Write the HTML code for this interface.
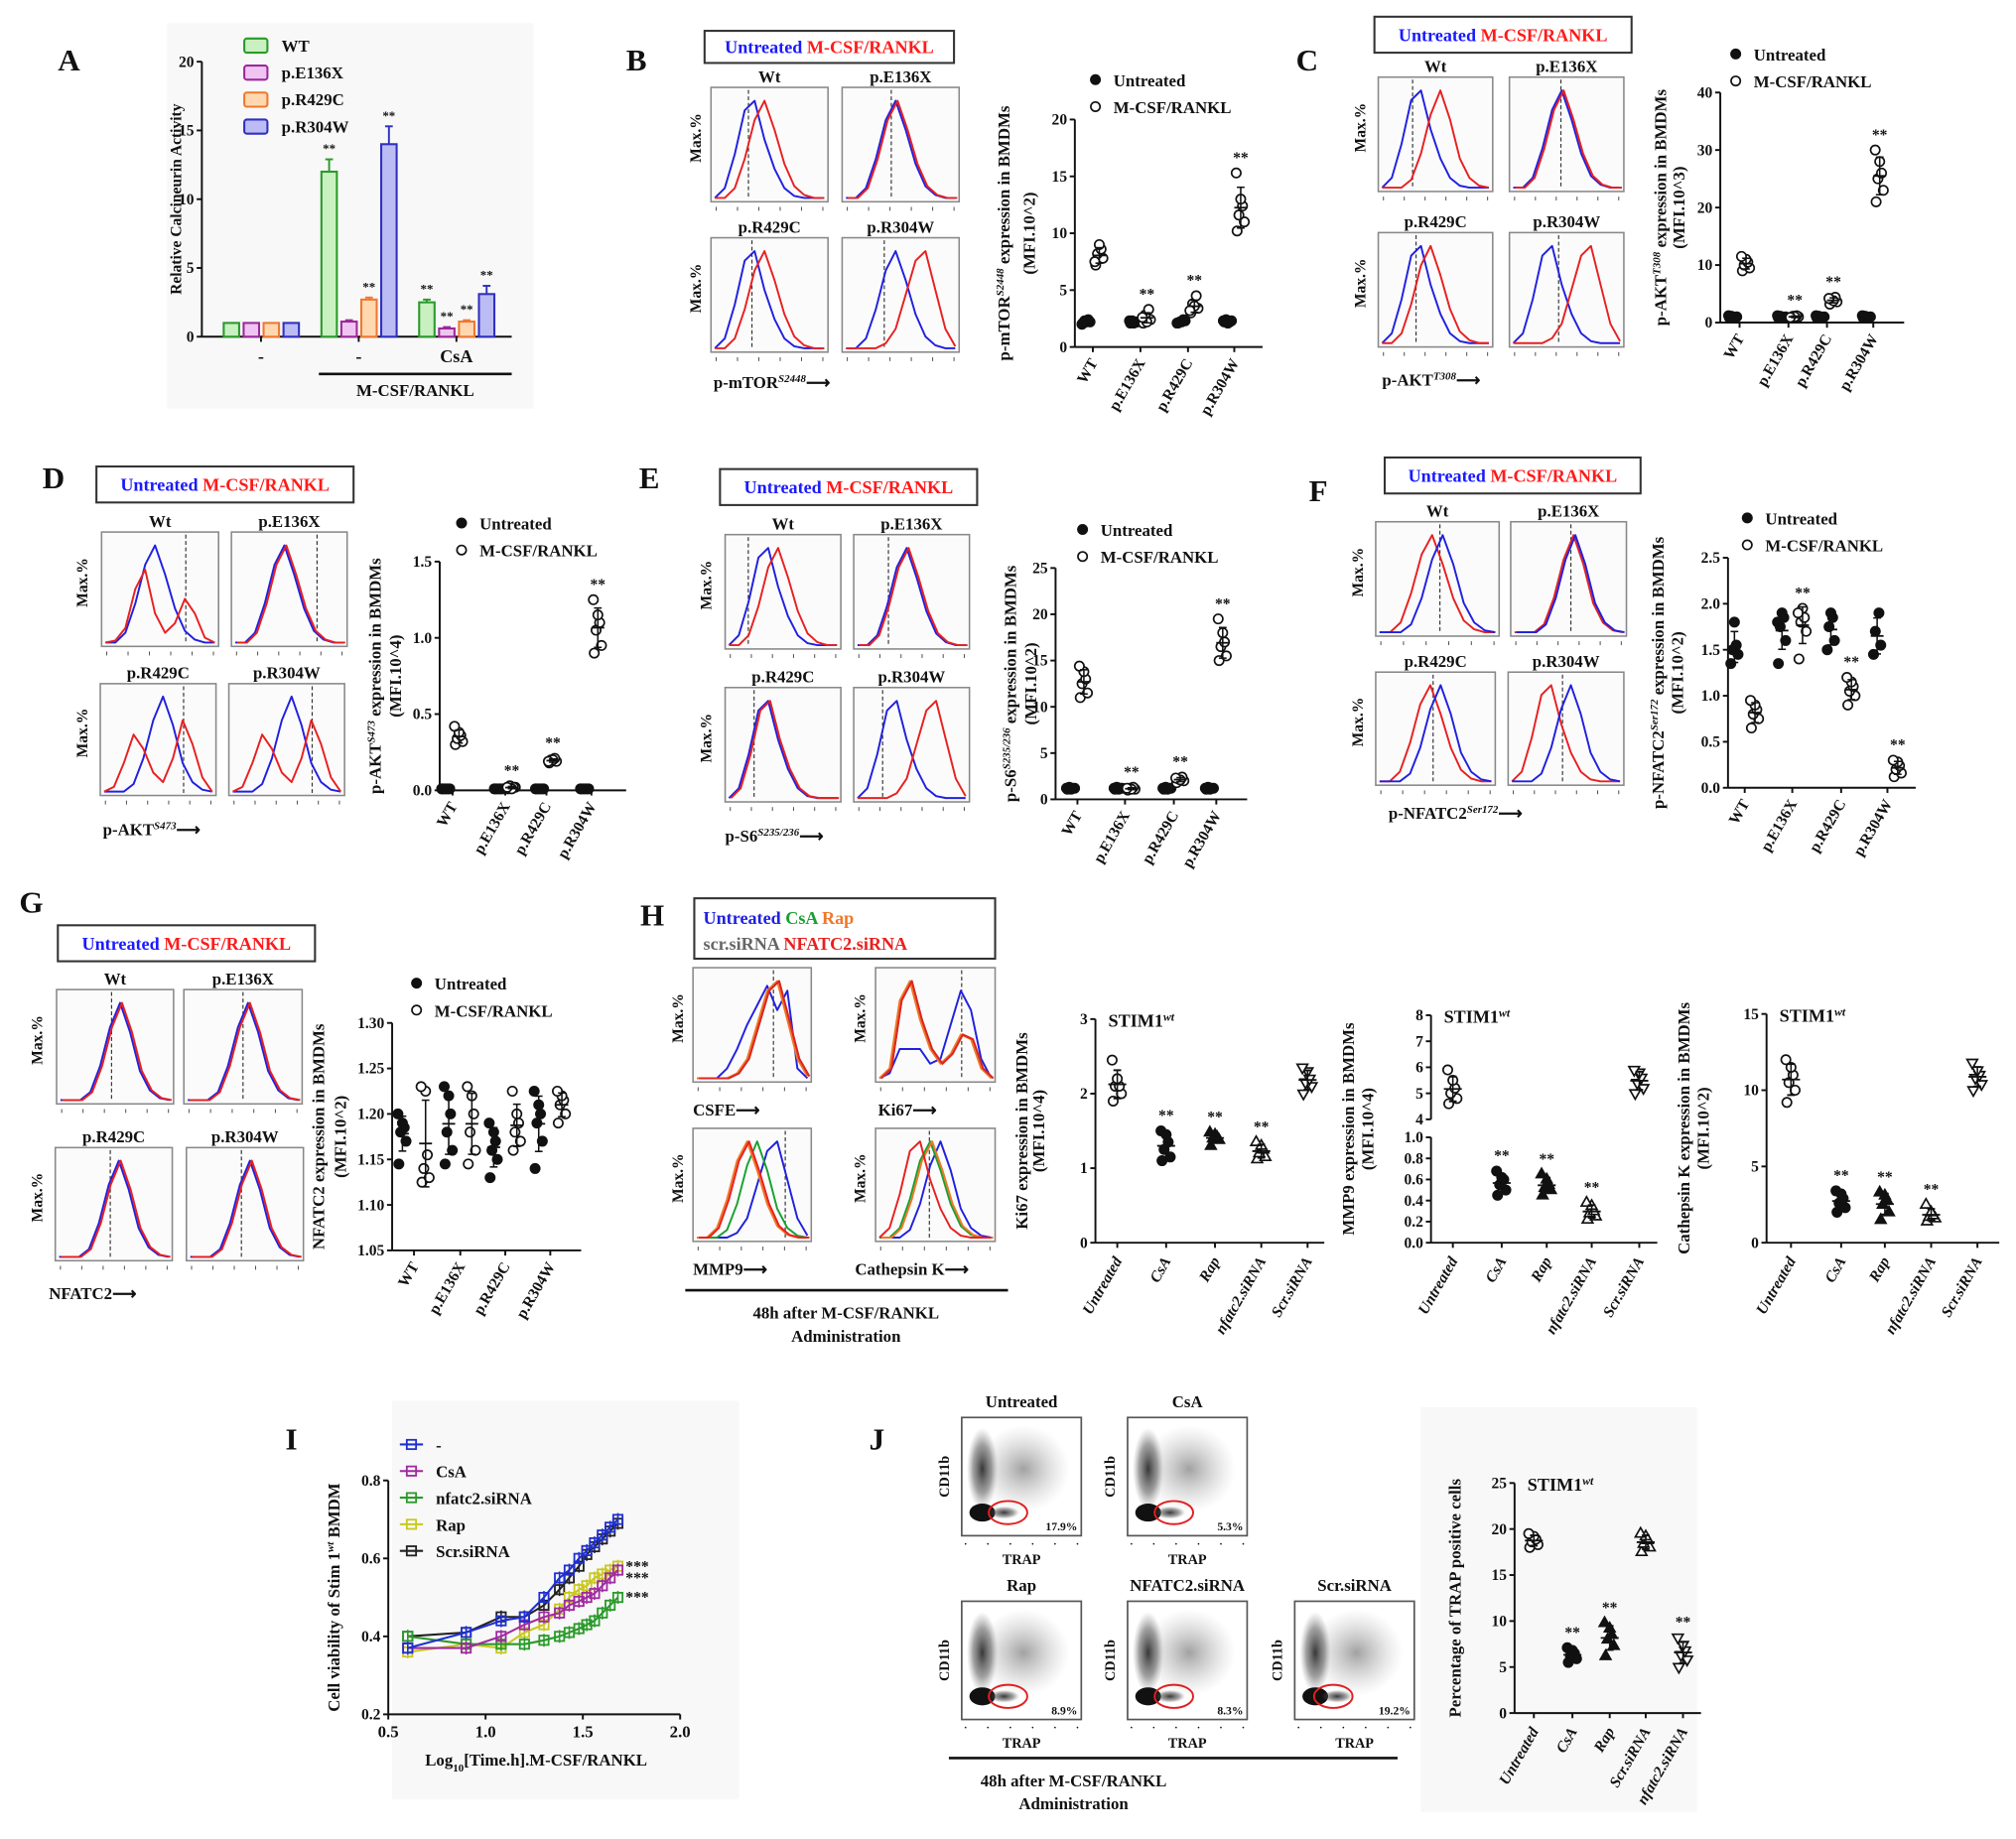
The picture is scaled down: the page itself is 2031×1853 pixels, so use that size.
<!DOCTYPE html>
<html><head><meta charset="utf-8">
<style>
html,body{margin:0;padding:0;background:#fff}
svg{display:block}
text{font-family:"Liberation Serif",serif;font-weight:bold}
</style></head>
<body>
<svg id="fig" xmlns="http://www.w3.org/2000/svg" width="2031" height="1853" viewBox="0 0 1568 1431" preserveAspectRatio="none">
<defs>
<radialGradient id="blob"><stop offset="0" stop-color="#222" stop-opacity="0.9"/><stop offset="0.6" stop-color="#444" stop-opacity="0.5"/><stop offset="1" stop-color="#777" stop-opacity="0"/></radialGradient>
<radialGradient id="blob2"><stop offset="0" stop-color="#555" stop-opacity="0.55"/><stop offset="1" stop-color="#999" stop-opacity="0"/></radialGradient>
</defs>
</svg>
<script>
// ===== DATA =====
const barCats = ['-', '-', 'CsA'];
const barSeries = ['WT','p.E136X','p.R429C','p.R304W'];
const barWT = [1, 12, 2.5];
const barE136X = [1, 1.1, 0.6];
const barR429C = [1, 2.7, 1.1];
const barR304W = [1, 14, 3.1];
const barErrWT = [0, 0.9, 0.2];
const barErrE136X = [0, 0.1, 0.1];
const barErrR429C = [0, 0.15, 0.1];
const barErrR304W = [0, 1.3, 0.6];
const aTicks = [0,5,10,15,20];

const mutCats = ['WT','p.E136X','p.R429C','p.R304W'];
const bUn = [[2.1,2.2,2.3,2.4,2.2,2.0],[2.1,2.2,2.3,2.2,2.1,2.3],[2.1,2.3,2.2,2.4,2.2,2.1],[2.2,2.3,2.4,2.2,2.1,2.3]];
const bTr = [[7.2,7.8,8.2,8.6,9.0,7.5],[2.1,2.4,2.8,3.3,2.2,2.6],[3.0,3.4,3.8,4.5,3.6,3.2],[10.2,11.0,11.6,12.4,13.0,15.3]];
const bTicks = [0,5,10,15,20];
const cUn = [[0.8,1,1.1,0.9,1,1.2],[0.8,1,1.1,0.9,1,1.2],[0.8,1,1.1,0.9,1,1.2],[0.8,1,1.1,0.9,1,1.2]];
const cTr = [[9,9.5,10,10.5,11,11.5],[0.8,1,1.1,1.2,1,0.9],[3.2,3.6,4,4.4,3.8,4.2],[21,23,25,26,28,30]];
const cTicks = [0,10,20,30,40];
const dUn = [[0.01,0.01,0.01,0.01,0.01,0.01],[0.01,0.01,0.01,0.01,0.01,0.01],[0.01,0.01,0.01,0.01,0.01,0.01],[0.01,0.01,0.01,0.01,0.01,0.01]];
const dTr = [[0.3,0.32,0.34,0.36,0.38,0.42],[0.01,0.02,0.03,0.02,0.01,0.02],[0.18,0.19,0.2,0.21,0.2,0.19],[0.9,0.95,1.05,1.1,1.15,1.25]];
const dTicks = [0,0.5,1.0,1.5];
const eUn = [[1.1,1.2,1.3,1.2,1.1,1.2],[1.1,1.2,1.3,1.2,1.1,1.2],[1.1,1.2,1.3,1.2,1.1,1.2],[1.1,1.2,1.3,1.2,1.1,1.2]];
const eTr = [[11,11.5,12.5,13,13.8,14.4],[1,1.1,1.2,1.3,1.1,1.2],[1.8,2,2.2,2.4,2.1,2.3],[15,15.5,16.5,17,18,19.5]];
const eTicks = [0,5,10,15,20,25];
const fUn = [[1.35,1.45,1.5,1.55,1.8],[1.35,1.6,1.75,1.85,1.9,1.8],[1.5,1.6,1.75,1.85,1.9],[1.45,1.55,1.7,1.9]];
const fTr = [[0.65,0.75,0.8,0.85,0.9,0.95],[1.4,1.7,1.8,1.85,1.95,1.9],[0.9,1.0,1.05,1.1,1.15,1.2],[0.12,0.16,0.2,0.24,0.28,0.3]];
const fTicks = [0,0.5,1.0,1.5,2.0,2.5];
const gUn = [[1.145,1.17,1.18,1.185,1.19,1.2],[1.145,1.16,1.18,1.2,1.22,1.23],[1.13,1.15,1.16,1.17,1.18,1.19],[1.14,1.17,1.19,1.2,1.21,1.225]];
const gTr = [[1.125,1.13,1.14,1.155,1.225,1.23],[1.145,1.16,1.18,1.2,1.22,1.23],[1.16,1.17,1.18,1.19,1.2,1.225],[1.19,1.2,1.21,1.215,1.22,1.225]];
const gTicks = [1.05,1.10,1.15,1.20,1.25,1.30];

const trtCats = ['Untreated','CsA','Rap','nfatc2.siRNA','Scr.siRNA'];
const ki67 = [[1.9,2.0,2.1,2.1,2.2,2.45],[1.1,1.15,1.25,1.35,1.45,1.5],[1.3,1.38,1.4,1.42,1.45,1.48],[1.12,1.15,1.2,1.25,1.3,1.35],[2.0,2.1,2.15,2.2,2.3,2.35]];
const ki67Ticks = [0,1,2,3];
const mmp9 = [[4.6,4.8,5.0,5.2,5.5,5.9],[0.45,0.5,0.55,0.6,0.62,0.68],[0.45,0.5,0.52,0.55,0.6,0.65],[0.22,0.25,0.28,0.3,0.35,0.38],[5.0,5.2,5.4,5.6,5.8,5.9]];
const mmp9TicksHi = [4,5,6,7,8];
const mmp9TicksLo = [0,0.2,0.4,0.6,0.8,1.0];
const cathk = [[9.2,10,10.5,11,11.5,12],[2,2.3,2.6,2.9,3.2,3.4],[1.5,2,2.5,2.8,3.1,3.3],[1.4,1.6,1.7,1.8,2,2.5],[10,10.4,10.8,11,11.3,11.8]];
const cathkTicks = [0,5,10,15];

const jCats = ['Untreated','CsA','Rap','Scr.siRNA','nfatc2.siRNA'];
const trap = [[18,18.3,18.6,18.9,19.2,19.5],[5.5,5.9,6.2,6.5,6.8,7.1],[6.2,7.3,8,8.5,9.2,9.8],[17.5,18,18.4,18.8,19.2,19.5],[5,5.8,6.3,6.8,7.4,8.2]];
const trapTicks = [0,5,10,15,20,25];
const gatePct = ['17.9%','5.3%','8.9%','8.3%','19.2%'];

const iNames = ['-','CsA','nfatc2.siRNA','Rap','Scr.siRNA'];
const iX = [0.6,0.9,1.08,1.2,1.3,1.38,1.43,1.48,1.52,1.56,1.6,1.64,1.68];
const iScr = [0.40,0.41,0.45,0.45,0.48,0.52,0.55,0.58,0.61,0.63,0.65,0.67,0.69];
const iRap = [0.36,0.38,0.37,0.41,0.43,0.47,0.50,0.52,0.53,0.55,0.56,0.57,0.58];
const iNfatc2 = [0.40,0.38,0.38,0.38,0.39,0.40,0.41,0.42,0.43,0.44,0.46,0.48,0.50];
const iCsA = [0.37,0.37,0.40,0.43,0.45,0.46,0.48,0.49,0.50,0.51,0.53,0.55,0.57];
const iCtrl = [0.37,0.41,0.44,0.45,0.50,0.55,0.57,0.60,0.62,0.64,0.66,0.68,0.70];
const iXTicks = [0.5,1.0,1.5,2.0];
const iYTicks = [0.2,0.4,0.6,0.8];

// histogram profiles (relative counts across the log axis)
const pkL = [0,0.1,0.45,0.9,1,0.6,0.3,0.1,0.02,0,0,0];
const pkM = [0,0,0.1,0.4,0.8,1,0.7,0.35,0.12,0.03,0,0];
const pkMR = [0,0,0,0.08,0.35,0.75,1,0.7,0.3,0.1,0.02,0];
const pkR = [0,0,0,0,0.05,0.2,0.55,0.9,1,0.6,0.2,0.02];
const dbl = [0,0.02,0.15,0.55,0.75,0.3,0.1,0.2,0.45,0.3,0.05,0];
const dbl2 = [0,0.05,0.3,0.6,0.45,0.2,0.1,0.35,0.75,0.5,0.15,0];
const multi = [0,0,0,0.1,0.3,0.55,0.75,0.95,0.7,0.9,0.1,0];
const bimB = [0,0.05,0.3,0.3,0.3,0.15,0.2,0.55,0.9,0.7,0.2,0];
const bimR = [0,0.1,0.8,1,0.6,0.3,0.15,0.25,0.45,0.4,0.1,0];

// ===== HELPERS =====
const NS='http://www.w3.org/2000/svg';
const svg=document.getElementById('fig');
function mk(tag, attrs, parent, name){
  const e=document.createElementNS(NS,tag);
  for(const k in attrs) e.setAttribute(k,attrs[k]);
  
  
  (parent||svg).appendChild(e); return e;
}
function T(x,y,s,size,name,o){
  o=o||{};
  const e=mk('text',{x:x,y:y,'font-size':size,'text-anchor':o.anchor||'start',fill:o.fill||'#111'},o.parent,name);
  if(o.rot!==undefined) e.setAttribute('transform','rotate('+o.rot+' '+x+' '+y+')');
  if(o.italic) e.setAttribute('font-style','italic');
  if(o.weight) e.setAttribute('font-weight',o.weight);
  e.textContent=s; return e;
}
function TP(x,y,parts,size,name,o){
  o=o||{};
  const e=mk('text',{x:x,y:y,'font-size':size,'text-anchor':o.anchor||'start',fill:'#111'},o.parent,name);
  if(o.rot!==undefined) e.setAttribute('transform','rotate('+o.rot+' '+x+' '+y+')');
  parts.forEach(p=>{
    const t=document.createElementNS(NS,'tspan');
    t.textContent=p[0];
    if(p[1]==='sup'){t.setAttribute('font-size',size*0.65);t.setAttribute('baseline-shift','super');t.setAttribute('font-style','italic');}
    if(p[1]==='sub'){t.setAttribute('font-size',size*0.65);t.setAttribute('baseline-shift','sub');}
    if(p[2]) t.setAttribute('fill',p[2]);
    e.appendChild(t);
  });
  return e;
}
function L(x1,y1,x2,y2,name,st,w,dash){
  const e=mk('line',{x1:x1,y1:y1,x2:x2,y2:y2,stroke:st||'#111','stroke-width':w||1.5},null,name);
  if(dash) e.setAttribute('stroke-dasharray',dash);
  return e;
}
function lin(d0,d1,r0,r1){return v=>r0+(v-d0)*(r1-r0)/(d1-d0);}
function mean(a){return a.reduce((s,v)=>s+v,0)/a.length;}
function sd(a){const m=mean(a);return Math.sqrt(a.reduce((s,v)=>s+(v-m)*(v-m),0)/(a.length-1));}
function marker(x,y,type,name,col){
  col=col||'#111'; const r=3.6;
  if(type==='fc'||type==='oc'){
    return mk('circle',{cx:x,cy:y,r:r,fill:type==='fc'?col:'#fff',stroke:col,'stroke-width':1.3},null,name);
  }
  if(type==='sq'){
    return mk('rect',{x:x-r,y:y-r,width:2*r,height:2*r,fill:'none',stroke:col,'stroke-width':1.4},null,name);
  }
  let pts;
  if(type==='od') pts=[[x-r-0.5,y-r+1],[x+r+0.5,y-r+1],[x,y+r+1]];
  else pts=[[x-r-0.5,y+r-1],[x+r+0.5,y+r-1],[x,y-r-1]];
  return mk('polygon',{points:pts.map(p=>p.join(',')).join(' '),fill:type==='ft'?col:'#fff',stroke:col,'stroke-width':1.3},null,name);
}
const jit=[-4,4,-2,2,0,-5,5];

function yAxis(ax,yb,yt,map,ticks,fmt,name){
  L(ax,yb,ax,yt,name+'-y-axis');
  ticks.forEach(t=>{
    const y=map(t);
    L(ax-4,y,ax,y,name+'-y-tick');
    T(ax-6,y+4,fmt(t),12,name+'-y-tick-label',{anchor:'end'});
  });
}
function legendBox(x,y,w,h,parts,name){
  mk('rect',{x:x,y:y,width:w,height:h,fill:'#fff',stroke:'#333','stroke-width':1.6},null,name);
  TP(x+w/2,y+h/2+5,parts,14,name+'-text',{anchor:'middle'});
}
function drawCurves(b,curves,name){
  curves.forEach((c,ci)=>{
    const n=c.d.length;
    const same=ci>0 && curves[ci-1].d===c.d;
    const sh=same?1.5:0;
    const pts=c.d.map((v,i)=>[(b.x+3+sh+i*(b.w-6)/(n-1)).toFixed(1),(b.y+b.h-3-v*(b.h*0.85)).toFixed(1)].join(','));
    mk('polyline',{points:pts.join(' '),fill:'none',stroke:c.col,'stroke-width':1.5,'stroke-linejoin':'round'},null,name+'-curve');
  });
}
function histBox(b,title,curves,dash,name){
  T(b.x+b.w/2,b.y-4,title,13,name+'-title',{anchor:'middle'});
  mk('rect',{x:b.x,y:b.y,width:b.w,height:b.h,fill:'#fbfbfb',stroke:'#888','stroke-width':1.2},null,name+'-frame');
  L(b.x+b.w*dash,b.y+2,b.x+b.w*dash,b.y+b.h-2,name+'-median-line','#333',0.9,'3,2');
  for(let i=0;i<6;i++){const tx=b.x+4+i*(b.w-8)/5;L(tx,b.y+b.h+4,tx,b.y+b.h+7,name+'-tick','#555',0.8);}
  drawCurves(b,curves,name);
}
function histPanel(boxes,titles,curvesList,dashes,ylabX,xlab,name){
  boxes.forEach((b,i)=>histBox(b,titles[i],curvesList[i],dashes[i],name+'-hist-'+i));
  T(ylabX,(boxes[0].y+boxes[0].h/2)+14,'Max.%',12,name+'-ylabel-top',{rot:-90});
  T(ylabX,(boxes[2].y+boxes[2].h/2)+14,'Max.%',12,name+'-ylabel-bottom',{rot:-90});
  TP(xlab[0],xlab[1],xlab[2],13,name+'-xlabel');
}
function dotPair(c){
  const map=lin(c.vmin,c.vmax,c.yb,c.yt);
  yAxis(c.ax,c.yb,c.yt,map,c.ticks,c.fmt,c.name);
  L(c.ax,c.yb,c.xe,c.yb,c.name+'-x-axis');
  c.cx.forEach((cx,k)=>{
    L(cx,c.yb,cx,c.yb+4,c.name+'-x-tick');
    T(cx+4,c.yb+12,mutCats[k],12,c.name+'-x-label',{anchor:'end',rot:-60});
    [[c.un[k],'fc',-c.off],[c.tr[k],'oc',c.off]].forEach(g=>{
      const arr=g[0],x=cx+g[2],m=mean(arr),s=sd(arr);
      arr.forEach((v,i)=>marker(x+jit[i%7]*0.7,map(v),g[1],c.name+'-point'));
      L(x,map(m-s),x,map(m+s),c.name+'-sd-bar','#111',1.2);
      L(x-5,map(m),x+5,map(m),c.name+'-mean-line','#111',1.4);
      L(x-3,map(m+s),x+3,map(m+s),c.name+'-sd-cap','#111',1.2);
      L(x-3,map(m-s),x+3,map(m-s),c.name+'-sd-cap','#111',1.2);
    });
    if(c.stars[k]) T(cx+c.off,map(Math.max(...c.tr[k]))-8,'**',12,c.name+'-significance',{anchor:'middle'});
  });
  marker(c.lg[0],c.lg[1],'fc',c.name+'-legend-marker');
  T(c.lg[0]+14,c.lg[1]+5,'Untreated',13,c.name+'-legend-untreated');
  marker(c.lg[0],c.lg[1]+21,'oc',c.name+'-legend-marker');
  T(c.lg[0]+14,c.lg[1]+26,'M-CSF/RANKL',13,c.name+'-legend-treated');
  const mid=(c.yb+c.yt)/2;
  TP(c.tx[0],mid,c.title,13,c.name+'-y-title',{anchor:'middle',rot:-90});
  T(c.tx[1],mid,c.title2,13,c.name+'-y-title-unit',{anchor:'middle',rot:-90});
}
function dotFive(c){
  const map=c.map||lin(c.vmin,c.vmax,c.yb,c.yt);
  if(!c.noAxis) yAxis(c.ax,c.yb,c.yt,map,c.ticks,c.fmt,c.name);
  L(c.ax,c.yb,c.xe,c.yb,c.name+'-x-axis');
  const mks=c.markers;
  c.cx.forEach((cx,k)=>{
    L(cx,c.yb,cx,c.yb+4,c.name+'-x-tick');
    T(cx+4,c.yb+14,c.cats[k],12,c.name+'-x-label',{anchor:'end',rot:-60,italic:true});
    const arr=c.data[k],m=mean(arr),s=sd(arr);
    arr.forEach((v,i)=>marker(cx+jit[i%7]*0.8,map(v),mks[k],c.name+'-point'));
    L(cx,map(m-s),cx,map(m+s),c.name+'-sd-bar','#111',1.2);
    L(cx-7,map(m),cx+7,map(m),c.name+'-mean-line','#111',1.4);
    L(cx-3,map(m+s),cx+3,map(m+s),c.name+'-sd-cap');
    L(cx-3,map(m-s),cx+3,map(m-s),c.name+'-sd-cap');
    if(c.stars[k]) T(cx,map(Math.max(...arr))-8,'**',12,c.name+'-significance',{anchor:'middle'});
  });
  TP(c.ax+10,c.yt+6,[['STIM1'],['wt','sup']],14,c.name+'-genotype-label');
  const mid=(c.yb+c.yt)/2;
  T(c.tx[0],mid,c.title,13,c.name+'-y-title',{anchor:'middle',rot:-90});
  if(c.title2) T(c.tx[1],mid,c.title2,13,c.name+'-y-title-unit',{anchor:'middle',rot:-90});
}
const UR=[['Untreated ','', '#1a1aff'],['M-CSF/RANKL','','#ff1a1a']];
const B='#2020e0', R='#e82020', Gc='#18a030', O='#f07828';

// light panel backgrounds
[[130,18,285,300],[305,1090,270,310],[1105,1095,215,315]].forEach(r=>mk('rect',{x:r[0],y:r[1],width:r[2],height:r[3],fill:'#f8f8f8'},null,'panel-background'));

// ===== PANEL A =====
T(45,55,'A',24,'panel-label-a');
(function(){
  const y=lin(0,20,262,48);
  yAxis(157,262,48,y,aTicks,v=>String(v),'a');
  L(157,262,398,262,'a-x-axis');
  const ser=[barWT,barE136X,barR429C,barR304W];
  const errs=[barErrWT,barErrE136X,barErrR429C,barErrR304W];
  const strokes=['#2a9a2a','#9a2a9a','#f07830','#3030c0'];
  const fills=['#c8f0c0','#f0c4f0','#ffd8b0','#bcbcf4'];
  const gx=[174,250,326];
  barCats.forEach((c,g)=>{
    ser.forEach((s,k)=>{
      const x=gx[g]+k*15.5, top=y(s[g]);
      mk('rect',{x:x,y:top,width:12,height:262-top,fill:fills[k],stroke:strokes[k],'stroke-width':1.6},null,'a-bar-'+barSeries[k]);
      if(errs[k][g]>0){L(x+6,top,x+6,y(s[g]+errs[k][g]),'a-error-bar',strokes[k],1.5);L(x+3,y(s[g]+errs[k][g]),x+9,y(s[g]+errs[k][g]),'a-error-cap',strokes[k],1.5);}
      if(g>0 && !(g===1&&k===1)) T(x+6,y(s[g]+errs[k][g])-5,'**',10,'a-significance',{anchor:'middle'});
    });
    L(gx[g]+29,262,gx[g]+29,266,'a-x-tick');
    T(gx[g]+29,282,c,14,'a-group-label',{anchor:'middle'});
  });
  L(248,291,398,291,'a-treatment-bracket','#111',2);
  T(323,308,'M-CSF/RANKL',13,'a-treatment-label',{anchor:'middle'});
  T(141,155,'Relative Calcineurin Activity',12,'a-y-title',{anchor:'middle',rot:-90});
  barSeries.forEach((n,k)=>{
    const ly=30+k*21;
    mk('rect',{x:190,y:ly,width:18,height:11,fill:fills[k],stroke:strokes[k],'stroke-width':1.6,rx:2},null,'a-legend-swatch');
    T(219,ly+10,n,13,'a-legend-label');
  });
})();

// ===== PANEL B =====
T(487,55,'B',24,'panel-label-b');
legendBox(548,24,194,25,UR,'b-legend');
histPanel([{x:553,y:68,w:91,h:89},{x:655,y:68,w:91,h:89},{x:553,y:185,w:91,h:89},{x:655,y:185,w:91,h:89}],
  ['Wt','p.E136X','p.R429C','p.R304W'],
  [[{col:B,d:pkL},{col:R,d:pkM}],[{col:B,d:pkM},{col:R,d:pkM}],[{col:B,d:pkL},{col:R,d:pkM}],[{col:B,d:pkM},{col:R,d:pkR}]],
  [0.32,0.42,0.35,0.36],545,[555,302,[['p-mTOR'],['S2448','sup'],['⟶']]],'b');
dotPair({name:'b',ax:836,yb:270,yt:93,vmin:0,vmax:20,ticks:bTicks,fmt:v=>String(v),xe:982,cx:[850,887,924,960],off:5,un:bUn,tr:bTr,stars:[0,1,1,1],lg:[852,62],tx:[785,805],title:[['p-mTOR'],['S2448','sup'],[' expression in BMDMs']],title2:'(MFI.10^2)'});

// ===== PANEL C =====
T(1008,55,'C',24,'panel-label-c');
legendBox(1069,13,200,28,UR,'c-legend');
histPanel([{x:1072,y:60,w:89,h:89},{x:1174,y:60,w:89,h:89},{x:1072,y:181,w:89,h:89},{x:1174,y:181,w:89,h:89}],
  ['Wt','p.E136X','p.R429C','p.R304W'],
  [[{col:B,d:pkL},{col:R,d:pkMR}],[{col:B,d:pkM},{col:R,d:pkM}],[{col:B,d:pkL},{col:R,d:pkM}],[{col:B,d:pkL},{col:R,d:pkR}]],
  [0.3,0.45,0.33,0.43],1062,[1075,300,[['p-AKT'],['T308','sup'],['⟶']]],'c');
dotPair({name:'c',ax:1338,yb:251,yt:72,vmin:0,vmax:40,ticks:cTicks,fmt:v=>String(v),xe:1481,cx:[1353,1391,1421,1457],off:5,un:cUn,tr:cTr,stars:[0,1,1,1],lg:[1350,42],tx:[1296,1310],title:[['p-AKT'],['T308','sup'],[' expression in BMDMs']],title2:'(MFI.10^3)'});

// ===== PANEL D =====
T(33,380,'D',24,'panel-label-d');
legendBox(75,363,200,28,UR,'d-legend');
histPanel([{x:79,y:414,w:91,h:89},{x:180,y:414,w:90,h:89},{x:78,y:532,w:90,h:87},{x:178,y:532,w:90,h:87}],
  ['Wt','p.E136X','p.R429C','p.R304W'],
  [[{col:B,d:pkM},{col:R,d:dbl}],[{col:B,d:pkM},{col:R,d:pkM}],[{col:B,d:pkMR},{col:R,d:dbl2}],[{col:B,d:pkMR},{col:R,d:dbl2}]],
  [0.72,0.74,0.72,0.72],68,[80,650,[['p-AKT'],['S473','sup'],['⟶']]],'d');
dotPair({name:'d',ax:342,yb:615,yt:437,vmin:0,vmax:1.5,ticks:dTicks,fmt:v=>v.toFixed(1),xe:487,cx:[352,393,425,460],off:5,un:dUn,tr:dTr,stars:[0,1,1,1],lg:[359,407],tx:[296,312],title:[['p-AKT'],['S473','sup'],[' expression in BMDMs']],title2:'(MFI.10^4)'});

// ===== PANEL E =====
T(497,380,'E',24,'panel-label-e');
legendBox(560,365,200,28,UR,'e-legend');
histPanel([{x:564,y:416,w:90,h:89},{x:664,y:416,w:90,h:89},{x:564,y:535,w:90,h:89},{x:664,y:535,w:90,h:89}],
  ['Wt','p.E136X','p.R429C','p.R304W'],
  [[{col:B,d:pkL},{col:R,d:pkM}],[{col:B,d:pkM},{col:R,d:pkM}],[{col:B,d:pkL},{col:R,d:pkL}],[{col:B,d:pkL},{col:R,d:pkR}]],
  [0.2,0.3,0.25,0.25],553,[564,655,[['p-S6'],['S235/236','sup'],['⟶']]],'e');
dotPair({name:'e',ax:821,yb:622,yt:442,vmin:0,vmax:25,ticks:eTicks,fmt:v=>String(v),xe:970,cx:[838,875,913,946],off:5,un:eUn,tr:eTr,stars:[0,1,1,1],lg:[842,412],tx:[790,806],title:[['p-S6'],['S235/236','sup'],[' expression in BMDMs']],title2:'(MFI.10^2)'});

// ===== PANEL F =====
T(1018,390,'F',24,'panel-label-f');
legendBox(1077,356,199,28,UR,'f-legend');
histPanel([{x:1070,y:406,w:96,h:89},{x:1175,y:406,w:90,h:89},{x:1070,y:523,w:93,h:88},{x:1173,y:523,w:90,h:88}],
  ['Wt','p.E136X','p.R429C','p.R304W'],
  [[{col:R,d:pkM},{col:B,d:pkMR}],[{col:R,d:pkMR},{col:B,d:pkMR}],[{col:R,d:pkM},{col:B,d:pkMR}],[{col:R,d:pkL},{col:B,d:pkMR}]],
  [0.52,0.52,0.48,0.47],1060,[1080,637,[['p-NFATC2'],['Ser172','sup'],['⟶']]],'f');
dotPair({name:'f',ax:1344,yb:613,yt:434,vmin:0,vmax:2.5,ticks:fTicks,fmt:v=>v.toFixed(1),xe:1490,cx:[1357,1394,1432,1468],off:8,un:fUn,tr:fTr,stars:[0,1,1,1],lg:[1359,403],tx:[1294,1309],title:[['p-NFATC2'],['Ser172','sup'],[' expression in BMDMs']],title2:'(MFI.10^2)'});

// ===== PANEL G =====
T(15,710,'G',24,'panel-label-g');
legendBox(45,720,200,28,UR,'g-legend');
histPanel([{x:44,y:770,w:91,h:89},{x:143,y:770,w:92,h:89},{x:43,y:893,w:91,h:88},{x:145,y:893,w:91,h:88}],
  ['Wt','p.E136X','p.R429C','p.R304W'],
  [[{col:B,d:pkMR},{col:R,d:pkMR}],[{col:B,d:pkMR},{col:R,d:pkMR}],[{col:B,d:pkMR},{col:R,d:pkMR}],[{col:B,d:pkMR},{col:R,d:pkMR}]],
  [0.47,0.5,0.47,0.47],33,[38,1011,[['NFATC2⟶']]],'g');
dotPair({name:'g',ax:305,yb:973,yt:796,vmin:1.05,vmax:1.30,ticks:gTicks,fmt:v=>v.toFixed(2),xe:452,cx:[322,358,393,428],off:9,un:gUn,tr:gTr,stars:[0,0,0,0],lg:[324,765],tx:[252,269],title:[['NFATC2 expression in BMDMs']],title2:'(MFI.10^2)'});

// ===== PANEL H =====
T(498,720,'H',24,'panel-label-h');
mk('rect',{x:540,y:699,width:234,height:47,fill:'#fff',stroke:'#333','stroke-width':1.6},null,'h-legend');
TP(547,719,[['Untreated ','',B],['CsA ','',Gc],['Rap','',O]],14,'h-legend-row1');
TP(547,739,[['scr.siRNA ','','#666'],['NFATC2.siRNA','',R]],14,'h-legend-row2');
(function(){
  const bx=[{x:539,y:753,w:92,h:89},{x:681,y:753,w:93,h:89},{x:539,y:878,w:92,h:88},{x:681,y:878,w:93,h:88}];
  const curves=[[{col:B,d:multi},{col:O,d:pkR},{col:Gc,d:pkR},{col:R,d:pkR}],
    [{col:B,d:bimB},{col:O,d:bimR},{col:Gc,d:bimR},{col:R,d:bimR}],
    [{col:B,d:pkR},{col:Gc,d:pkMR},{col:O,d:pkM},{col:R,d:pkM}],
    [{col:B,d:pkMR},{col:Gc,d:pkM},{col:O,d:pkM},{col:R,d:pkL}]];
  const dashes=[0.68,0.72,0.78,0.45];
  bx.forEach((b,i)=>{
    mk('rect',{x:b.x,y:b.y,width:b.w,height:b.h,fill:'#fbfbfb',stroke:'#888','stroke-width':1.2},null,'h-hist-frame');
    L(b.x+b.w*dashes[i],b.y+2,b.x+b.w*dashes[i],b.y+b.h-2,'h-median-line','#333',0.9,'3,2');
    for(let t=0;t<6;t++){const tx=b.x+4+t*(b.w-8)/5;L(tx,b.y+b.h+4,tx,b.y+b.h+7,'h-tick','#555',0.8);}
    drawCurves(b,curves[i],'h-hist');
    T(b.x-8,b.y+b.h/2+14,'Max.%',12,'h-hist-ylabel',{rot:-90});
  });
  T(539,868,'CSFE⟶',13,'h-xlabel-csfe');
  T(683,868,'Ki67⟶',13,'h-xlabel-ki67');
  T(539,992,'MMP9⟶',13,'h-xlabel-mmp9');
  T(665,992,'Cathepsin K⟶',13,'h-xlabel-cathepsin');
  L(533,1004,784,1004,'h-time-bracket','#111',2);
  T(658,1026,'48h after M-CSF/RANKL',13,'h-time-label',{anchor:'middle'});
  T(658,1044,'Administration',13,'h-time-label-2',{anchor:'middle'});
})();
const trtMarkers=['oc','fc','ft','ot','od'];
dotFive({name:'h-ki67',ax:852,yb:967,yt:793,vmin:0,vmax:3,ticks:ki67Ticks,fmt:v=>String(v),xe:1030,cx:[869,907,945,981,1017],cats:trtCats,data:ki67,markers:trtMarkers,stars:[0,1,1,1,0],tx:[799,812],title:'Ki67 expression in BMDMs',title2:'(MFI.10^4)'});
(function(){
  const hi=lin(4,8,871,790), lo=lin(0,1,967,885);
  const map=v=>v>=4?hi(v):lo(v);
  L(1113,871,1113,790,'h-mmp9-y-axis-upper');
  L(1113,967,1113,885,'h-mmp9-y-axis-lower');
  mmp9TicksHi.forEach(t=>{L(1109,hi(t),1113,hi(t),'h-mmp9-y-tick');T(1107,hi(t)+4,String(t),12,'h-mmp9-y-tick-label',{anchor:'end'});});
  mmp9TicksLo.forEach(t=>{L(1109,lo(t),1113,lo(t),'h-mmp9-y-tick');T(1107,lo(t)+4,t.toFixed(1),12,'h-mmp9-y-tick-label',{anchor:'end'});});
  dotFive({name:'h-mmp9',noAxis:true,map:map,ax:1113,yb:967,yt:790,xe:1289,cx:[1130,1168,1203,1238,1275],cats:trtCats,data:mmp9,markers:trtMarkers,stars:[0,1,1,1,0],tx:[1053,1068],title:'MMP9 expression in BMDMs',title2:'(MFI.10^4)'});
})();
dotFive({name:'h-cathepsin',ax:1374,yb:967,yt:789,vmin:0,vmax:15,ticks:cathkTicks,fmt:v=>String(v),xe:1555,cx:[1393,1432,1466,1502,1538],cats:trtCats,data:cathk,markers:trtMarkers,stars:[0,1,1,1,0],tx:[1314,1329],title:'Cathepsin K expression in BMDMs',title2:'(MFI.10^2)'});

// ===== PANEL I =====
T(222,1128,'I',24,'panel-label-i');
(function(){
  const x=lin(0.5,2.0,302,529), y=lin(0.2,0.8,1334,1152);
  yAxis(302,1334,1152,y,iYTicks,v=>v.toFixed(1),'i');
  L(302,1334,529,1334,'i-x-axis');
  iXTicks.forEach(t=>{L(x(t),1334,x(t),1338,'i-x-tick');T(x(t),1352,t.toFixed(1),13,'i-x-tick-label',{anchor:'middle'});});
  const ser=[iScr,iRap,iNfatc2,iCsA,iCtrl];
  const cols=['#222','#c8c820','#2a9a2a','#a02aa0','#2030d0'];
  const names=['Scr.siRNA','Rap','nfatc2.siRNA','CsA','-'];
  ser.forEach((s,k)=>{
    mk('polyline',{points:s.map((v,i)=>x(iX[i]).toFixed(1)+','+y(v).toFixed(1)).join(' '),fill:'none',stroke:cols[k],'stroke-width':1.6},null,'i-line-'+names[k]);
    s.forEach((v,i)=>{
      L(x(iX[i]),y(v)-5,x(iX[i]),y(v)+5,'i-error-bar',cols[k],1.2);
      marker(x(iX[i]),y(v),'sq','i-point-'+names[k],cols[k]);
    });
  });
  [0.58,0.55,0.50].forEach((v,i)=>T(x(1.72),y(v)+4,'***',12,'i-significance'));
  const lc=['#2030d0','#a02aa0','#2a9a2a','#c8c820','#222'];
  iNames.forEach((n,k)=>{
    const ly=1124+k*20.7;
    L(311,ly,329,ly,'i-legend-line',lc[k],1.6);
    marker(320,ly,'sq','i-legend-marker',lc[k]);
    T(339,ly+5,n,13,'i-legend-label');
  });
  TP(417,1374,[['Log'],['10','sub'],['[Time.h].M-CSF/RANKL']],13,'i-x-title',{anchor:'middle'});
  TP(264,1243,[['Cell viability of Stim 1'],['wt','sup'],[' BMDM']],13,'i-y-title',{anchor:'middle',rot:-90});
})();

// ===== PANEL J =====
T(676,1128,'J',24,'panel-label-j');
(function(){
  const boxes=[{x:748,y:1103,t:'Untreated'},{x:877,y:1103,t:'CsA'},{x:748,y:1246,t:'Rap'},{x:877,y:1246,t:'NFATC2.siRNA'},{x:1007,y:1246,t:'Scr.siRNA'}];
  boxes.forEach((b,i)=>{
    const w=93,h=92;
    T(b.x+w/2,b.y-8,b.t,13,'j-dotplot-title',{anchor:'middle'});
    mk('rect',{x:b.x,y:b.y,width:w,height:h,fill:'#fff',stroke:'#555','stroke-width':1.3},null,'j-dotplot-frame');
    mk('ellipse',{cx:b.x+48,cy:b.y+40,rx:36,ry:34,fill:'url(#blob2)'},null,'j-dot-cloud');
    mk('ellipse',{cx:b.x+16,cy:b.y+40,rx:12,ry:32,fill:'url(#blob)'},null,'j-dot-cloud-main');
    mk('ellipse',{cx:b.x+16,cy:b.y+h-18,rx:10,ry:7,fill:'#111'},null,'j-dot-cluster');
    mk('ellipse',{cx:b.x+33,cy:b.y+h-18,rx:12,ry:5,fill:'url(#blob)'},null,'j-dot-cluster-trap');
    mk('ellipse',{cx:b.x+(i===4?30:36),cy:b.y+h-18,rx:15,ry:9,fill:'none',stroke:'#e02020','stroke-width':1.5},null,'j-gate');
    T(b.x+w-3,b.y+h-4,gatePct[i],9,'j-gate-percent',{anchor:'end'});
    for(let t=0;t<6;t++){const tx=b.x+3+t*(w-6)/5;T(tx,b.y+h+9,'·',8,'j-x-tick',{anchor:'middle'});}
    T(b.x+w/2,b.y+h+22,'TRAP',11,'j-x-label',{anchor:'middle'});
    T(b.x-10,b.y+h/2,'CD11b',11,'j-y-label',{anchor:'middle',rot:-90});
  });
  L(738,1368,1087,1368,'j-time-bracket','#111',2);
  T(835,1390,'48h after M-CSF/RANKL',13,'j-time-label',{anchor:'middle'});
  T(835,1408,'Administration',13,'j-time-label-2',{anchor:'middle'});
})();
dotFive({name:'j-trap',ax:1178,yb:1333,yt:1154,vmin:0,vmax:25,ticks:trapTicks,fmt:v=>String(v),xe:1323,cx:[1193,1223,1252,1280,1309],cats:jCats,data:trap,markers:['oc','fc','ft','ot','od'],stars:[0,1,1,0,1],tx:[1136,1136],title:'Percentage of TRAP positive cells',title2:''});
</script>
</body></html>
